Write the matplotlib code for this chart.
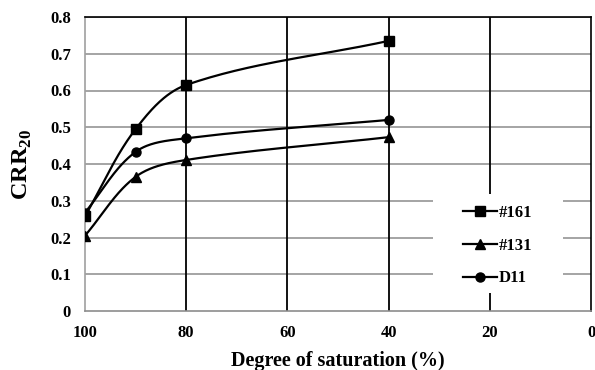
import numpy as np
import matplotlib
matplotlib.use("Agg")
import matplotlib.pyplot as plt
from matplotlib.patches import Rectangle

saturation = [100, 90, 80, 40]
crr_161 = [0.258, 0.495, 0.615, 0.735]
crr_131 = [0.205, 0.365, 0.411, 0.473]
crr_d11 = [0.268, 0.433, 0.470, 0.520]
series_names = ["#161", "#131", "D11"]
series_markers = ["s", "^", "o"]
x_ticks = [100, 80, 60, 40, 20, 0]
y_ticks = [0, 0.1, 0.2, 0.3, 0.4, 0.5, 0.6, 0.7, 0.8]

plt.rcParams['font.family'] = ['Liberation Serif', 'DejaVu Serif']
plt.rcParams['font.weight'] = 'bold'
plt.rcParams['mathtext.fontset'] = 'custom'
plt.rcParams['mathtext.rm'] = 'Liberation Serif:bold'
plt.rcParams['mathtext.bf'] = 'Liberation Serif:bold'

XLIM = (100, 0)
YLIM = (0, 0.8)
AX_W, AX_H = 506.0, 294.0


def smooth(x, y, n=50):
    # smoothed line computed in screen space (Bezier with chord-scaled tangents)
    x = np.asarray(x, float); y = np.asarray(y, float)
    px = (x - XLIM[0]) / (XLIM[1] - XLIM[0]) * AX_W
    py = (y - YLIM[0]) / (YLIM[1] - YLIM[0]) * AX_H
    pts = np.column_stack([px, py])
    m = len(pts)
    tang = []
    for i in range(m):
        a = pts[max(i - 1, 0)]
        b = pts[min(i + 1, m - 1)]
        d = b - a
        tang.append(d / np.hypot(*d))
    out = []
    for i in range(m - 1):
        p1, p2 = pts[i], pts[i + 1]
        L = np.hypot(*(p2 - p1))
        c1 = p1 + tang[i] * L / 3.0
        c2 = p2 - tang[i + 1] * L / 3.0
        t = np.linspace(0, 1, n)[:, None]
        seg = ((1 - t) ** 3) * p1 + 3 * ((1 - t) ** 2) * t * c1 + 3 * (1 - t) * t ** 2 * c2 + t ** 3 * p2
        out.append(seg if i == 0 else seg[1:])
    s = np.vstack(out)
    sx = XLIM[0] + s[:, 0] / AX_W * (XLIM[1] - XLIM[0])
    sy = YLIM[0] + s[:, 1] / AX_H * (YLIM[1] - YLIM[0])
    return sx, sy


fig = plt.figure(figsize=(5.95, 3.70), dpi=100)
ax = fig.add_axes([85 / 595, 1 - 311 / 370, AX_W / 595, AX_H / 370])

for vals, name, mk in zip([crr_161, crr_131, crr_d11], series_names, series_markers):
    sx, sy = smooth(saturation, vals)
    ax.plot(sx, sy, color='black', lw=1.6, zorder=4)
    ax.plot(saturation, vals, linestyle='none', marker=mk, color='black',
            markersize=6.5, zorder=5)
    ax.plot([], [], color='black', lw=1.6, marker=mk, markersize=6.5, label=name)

ax.set_xlim(*XLIM)
ax.set_ylim(*YLIM)
ax.set_xticks(x_ticks)
ax.set_yticks(y_ticks)
ax.set_xticklabels([str(v) for v in x_ticks])
ax.set_yticklabels(['0'] + ['%.1f' % v for v in y_ticks[1:]])
ax.tick_params(length=0, labelsize=12, pad=10)

for v in y_ticks[1:]:
    ax.axhline(v, color='#8c8c8c', lw=1.1, zorder=1)
for v in x_ticks[1:-1]:
    ax.axvline(v, color='black', lw=1.3, zorder=2)

ax.spines['left'].set_color('#a0a0a0')
ax.spines['bottom'].set_color('#8c8c8c')
ax.spines['top'].set_color('black')
ax.spines['right'].set_color('black')
for s in ax.spines.values():
    s.set_linewidth(1.2)

ax.set_xlabel('Degree of saturation (%)', fontsize=14.5, fontweight='bold', labelpad=7)
ax.set_ylabel('CRR$_{20}$', fontsize=17.5, fontweight='bold', labelpad=12)

# white legend background
ax.add_patch(Rectangle((0.688, 0.061), 0.257, 0.337, transform=ax.transAxes,
                       facecolor='white', edgecolor='none', zorder=3))

leg = ax.legend(loc='center', bbox_to_anchor=(0.816, 0.222), frameon=False,
                fontsize=12, handlelength=2.05, handletextpad=0.1,
                labelspacing=1.0, borderpad=0.3)
leg.set_zorder(6)

fig.savefig('out.png', dpi=100)
